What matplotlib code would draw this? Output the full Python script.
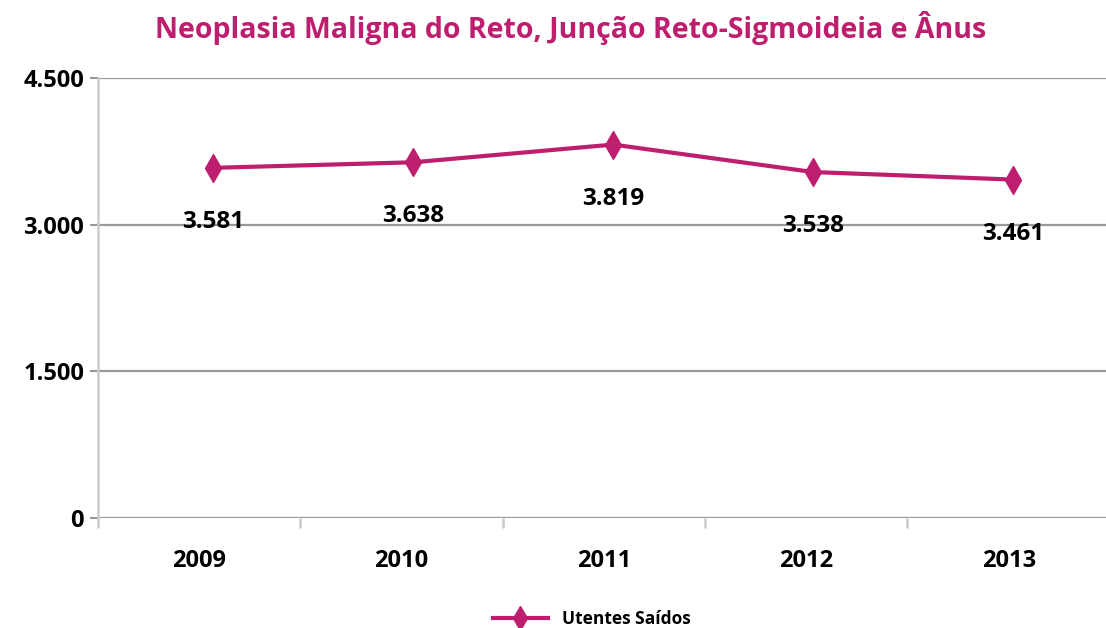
import matplotlib
matplotlib.use("Agg")
import matplotlib.pyplot as plt
import numpy as np

anos = ["2009", "2010", "2011", "2012", "2013"]
utentes = [3581, 3638, 3819, 3538, 3461]
yticks = [0, 1500, 3000, 4500]

cor = "#BE1E6E"
plt.rcParams['font.family'] = ['Open Sans', 'DejaVu Sans']

fig = plt.figure(figsize=(11.06, 6.28), dpi=100)
ax = fig.add_axes([0.0885, 0.1752, 0.915, 0.7006])

x = np.arange(len(anos))
# pontos ligeiramente deslocados para a direita, como no original
xp = x * 0.988 + 0.07
ax.plot(xp, utentes, color=cor, lw=3.0, marker="d", markersize=14,
        label="Utentes Saídos", zorder=3)

for xi, v in zip(xp, utentes):
    ax.annotate(f"{v:,}".replace(",", "."), (xi, v), xytext=(0, -39),
                textcoords="offset points", ha="center", va="center",
                fontsize=17.5, fontweight="bold", color="black")

ax.set_xlim(-0.5, len(anos) - 0.5)
ax.set_ylim(0, 4500)
ax.set_yticks(yticks)
ax.set_yticklabels([f"{t:,}".replace(",", ".") for t in yticks],
                   fontsize=17, fontweight="bold")
ax.set_xticks(x)
ax.set_xticklabels(anos, fontsize=17, fontweight="bold")
ax.set_xticks(np.arange(len(anos) + 1) - 0.5, minor=True)

ax.grid(axis="y", color="#999999", lw=1.6)
ax.set_axisbelow(True)
for s in ["top", "right", "bottom"]:
    ax.spines[s].set_visible(False)
ax.spines["left"].set_color("#cccccc")
ax.spines["left"].set_linewidth(1.8)
ax.tick_params(axis="y", length=6, width=1.5, color="#999999", pad=4)
ax.tick_params(axis="x", which="major", length=0, pad=22)
ax.tick_params(axis="x", which="minor", length=7, width=1.8, color="#cccccc")

fig.suptitle("Neoplasia Maligna do Reto, Junção Reto-Sigmoideia e Ânus",
             x=0.516, y=0.982, fontsize=20.5, fontweight="bold", color=cor)

leg = fig.legend(loc="lower center", bbox_to_anchor=(0.535, -0.025), frameon=False,
                 prop={"size": 12.5, "weight": "bold"}, handlelength=3.2,
                 markerscale=0.9)

fig.savefig("out.png", dpi=100)
